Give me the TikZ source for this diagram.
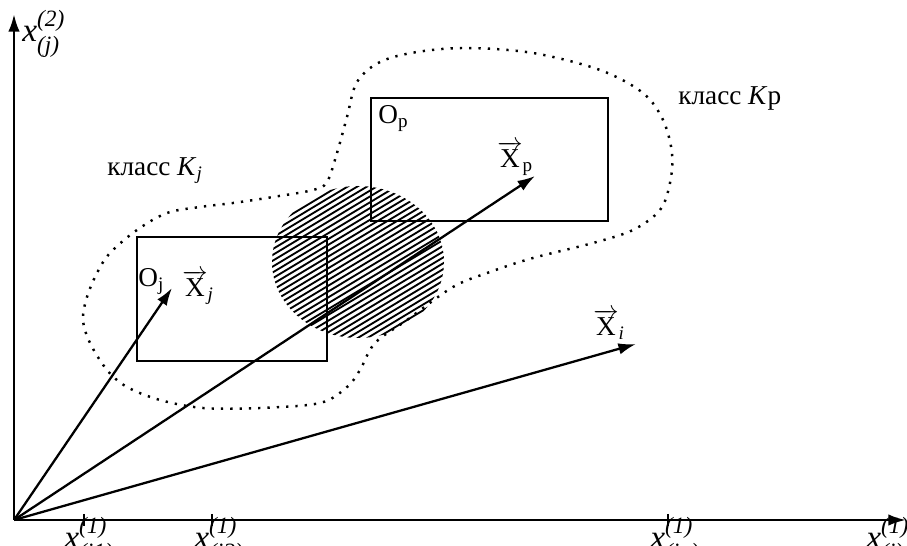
\documentclass[tikz,border=0pt]{standalone}
\usepackage{amsmath}
\usepackage{fontspec}
\setmainfont{Liberation Serif}
\usetikzlibrary{arrows.meta}
\newcommand\mysub[1]{$_{\text{#1}}$}
\tikzset{
  txt/.style={font=\fontsize{15.5}{18}\selectfont, inner sep=0pt, anchor=base west},
  axlbl/.style={font=\fontsize{19}{22}\selectfont, inner sep=0pt, anchor=base west},
  axis/.style={line width=1.5pt, -{Latex[length=10pt,width=6.5pt]}},
  vec/.style={line width=1.3pt, -{Latex[length=10pt,width=6.5pt]}},
  boxline/.style={line width=1.3pt},
  contour/.style={line width=1.4pt, dash pattern=on 1.3pt off 4pt},
  hatch/.style={line width=1.05pt},
  tick/.style={line width=1.1pt}
}
\begin{document}
\begin{tikzpicture}[x=0.02cm,y=-0.02cm]
\useasboundingbox (0,0) rectangle (907,546);
\clip (0,0) rectangle (907,546);
\fill[white] (0,0) rectangle (907,546);
% coordinates
\coordinate (O) at (14,520);
\coordinate (Ytop) at (14,14);
\coordinate (Xend) at (906,520);
\coordinate (Xj) at (172,288);
\coordinate (Xp) at (535,176);
\coordinate (Xi) at (636,344);
% hatched region
\begin{scope}
  \clip (358,262) ellipse [x radius=86, y radius=76];
  \begin{scope}[shift={(358,262)}, rotate=31]
    \foreach \k in {-18,...,18}
      \draw[hatch] (-130,\k*5) -- (130,\k*5);
  \end{scope}
\end{scope}
% dotted class contour
\draw[contour] plot[smooth cycle, tension=0.55] coordinates {
 (327,182) (337,153) (347,117) (357,82) (380,62) (417,52) (467,48) (533,53)
 (600,70) (643,93) (663,120) (672,153) (670,183) (660,210) (633,230) (593,243)
 (533,258) (490,272) (453,287) (407,320) (375,343) (360,370) (347,387) (320,403)
 (260,408) (203,408) (160,400) (127,387) (107,370) (90,343) (83,320) (87,297)
 (97,273) (110,253) (137,230) (167,213) (200,207) (233,203) (273,197) (313,190)};
% boxes
\draw[boxline] (137,237) rectangle (327,361);
\draw[boxline] (371,98) rectangle (608,221);
% axes
\draw[axis] (O) -- (Ytop);
\draw[axis] (O) -- (Xend);
% ticks
\draw[tick] (84,514) -- (84,526);
\draw[tick] (212,514) -- (212,526);
\draw[tick] (668,514) -- (668,526);
% vectors
\draw[vec] (O) -- (Xj);
\draw[vec] (O) -- (Xp);
\draw[vec] (O) -- (Xi);
% labels
\node[axlbl] (ylab) at (22,42) {$\text{\itshape x}^{\text{\itshape (2)}}_{\text{\itshape (j)}}$};
\node[axlbl] (t1) at (64,549) {$\text{\itshape x}^{\text{\itshape (1)}}_{\text{\itshape (i1)}}$};
\node[axlbl] (t2) at (194,549) {$\text{\itshape x}^{\text{\itshape (1)}}_{\text{\itshape (i2)}}$};
\node[axlbl] (t3) at (650,549) {$\text{\itshape x}^{\text{\itshape (1)}}_{\text{\itshape (in)}}$};
\node[axlbl] (t4) at (866,549) {$\text{\itshape x}^{\text{\itshape (1)}}_{\text{\itshape (j)}}$};
\node[txt] (kj) at (107,176) {класс \textit{K}\mysub{\itshape j}};
\node[txt] (kp) at (678,105) {класс \textit{K}р};
\node[txt] (oj) at (138,287) {O\mysub{j}};
\node[txt] (xjl) at (182,297) {$\overrightarrow{\text{X}}$\mysub{\itshape j}};
\node[txt] (op) at (378,124) {O\mysub{p}};
\node[txt] (xpl) at (497,168) {$\overrightarrow{\text{X}}$\mysub{p}};
\node[txt] (xil) at (593,336) {$\overrightarrow{\text{X}}$\mysub{\itshape i}};
\end{tikzpicture}
\end{document}
